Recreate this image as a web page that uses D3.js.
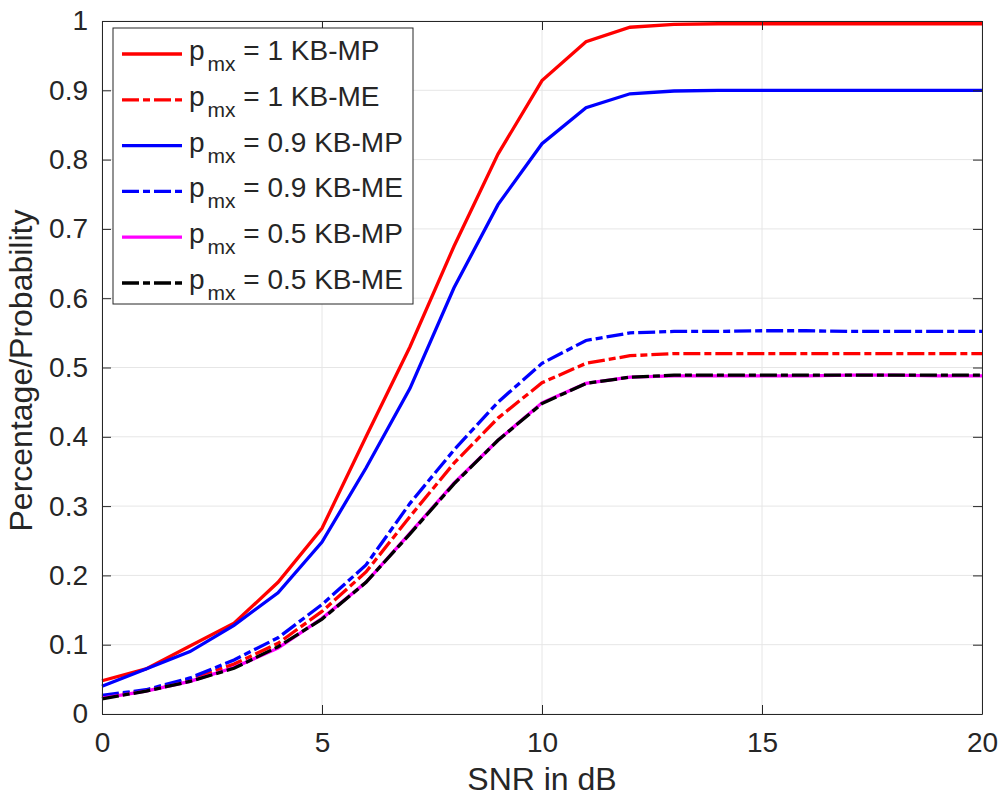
<!DOCTYPE html>
<html>
<head>
<meta charset="utf-8">
<script src="https://cdn.jsdelivr.net/npm/d3@7"></script>
<style>
  body { margin: 0; background: #fff; }
  text { font-family: "Liberation Sans", Arial, sans-serif; fill: #262626; }
</style>
</head>
<body>
<div id="chart"></div>
<script>
// SNR values (dB)
const snr = [0, 1, 2, 3, 4, 5, 6, 7, 8, 9, 10, 11, 12, 13, 14, 15, 16, 17, 18, 19, 20];

// series values
const mp1 = [0.048, 0.065, 0.098, 0.131, 0.19, 0.268, 0.40, 0.53, 0.675, 0.808, 0.914, 0.970, 0.991, 0.995, 0.996, 0.996, 0.996, 0.996, 0.996, 0.996, 0.996];
const me1 = [0.025, 0.034, 0.05, 0.072, 0.102, 0.148, 0.205, 0.285, 0.362, 0.427, 0.478, 0.506, 0.517, 0.520, 0.520, 0.520, 0.520, 0.520, 0.520, 0.520, 0.520];
const mp09 = [0.04, 0.065, 0.09, 0.128, 0.175, 0.248, 0.355, 0.47, 0.615, 0.735, 0.823, 0.875, 0.895, 0.899, 0.9, 0.9, 0.9, 0.9, 0.9, 0.9, 0.9];
const me09 = [0.027, 0.035, 0.052, 0.078, 0.11, 0.158, 0.215, 0.304, 0.381, 0.45, 0.506, 0.539, 0.550, 0.552, 0.552, 0.553, 0.553, 0.552, 0.552, 0.552, 0.552];
const mp05 = [0.023, 0.033, 0.047, 0.067, 0.095, 0.138, 0.19, 0.261, 0.333, 0.395, 0.449, 0.477, 0.486, 0.488, 0.488, 0.488, 0.488, 0.489, 0.489, 0.488, 0.488];
const me05 = [0.022, 0.033, 0.047, 0.066, 0.097, 0.137, 0.19, 0.26, 0.332, 0.395, 0.448, 0.477, 0.486, 0.489, 0.489, 0.489, 0.489, 0.489, 0.489, 0.489, 0.489];

const xTicks = [0, 5, 10, 15, 20];
const yTicks = [0, 0.1, 0.2, 0.3, 0.4, 0.5, 0.6, 0.7, 0.8, 0.9, 1];

const series = [
  { label: "1 KB-MP", values: mp1, color: "#ff0000", dash: null },
  { label: "1 KB-ME", values: me1, color: "#ff0000", dash: "17,4,7,4" },
  { label: "0.9 KB-MP", values: mp09, color: "#0000ff", dash: null },
  { label: "0.9 KB-ME", values: me09, color: "#0000ff", dash: "17,4,7,4" },
  { label: "0.5 KB-MP", values: mp05, color: "#ff00ff", dash: null },
  { label: "0.5 KB-ME", values: me05, color: "#000000", dash: "17,4,7,4" },
];

const width = 1002, height = 797;
const margin = { top: 21, right: 20, bottom: 83, left: 102 };

const svg = d3.select("#chart").append("svg")
  .attr("width", width).attr("height", height);

const x = d3.scaleLinear().domain([0, 20]).range([margin.left, width - margin.right]);
const y = d3.scaleLinear().domain([0, 1]).range([height - margin.bottom, margin.top]);

// grid
svg.append("g").selectAll("line").data(xTicks).enter().append("line")
  .attr("x1", d => x(d)).attr("x2", d => x(d))
  .attr("y1", y(0)).attr("y2", y(1))
  .attr("stroke", "#e6e6e6").attr("stroke-width", 1);
svg.append("g").selectAll("line").data(yTicks).enter().append("line")
  .attr("x1", x(0)).attr("x2", x(20))
  .attr("y1", d => y(d)).attr("y2", d => y(d))
  .attr("stroke", "#e6e6e6").attr("stroke-width", 1);

// lines
const line = d3.line().x((d, i) => x(snr[i])).y(d => y(d));
series.forEach(s => {
  svg.append("path")
    .datum(s.values)
    .attr("d", line)
    .attr("fill", "none")
    .attr("stroke", s.color)
    .attr("stroke-width", 3.3)
    .attr("stroke-dasharray", s.dash);
});

// axes, inward ticks on all sides
const tickLen = 9;
svg.append("g").attr("transform", `translate(0,${y(0)})`)
  .call(d3.axisBottom(x).tickValues(xTicks).tickSizeInner(-tickLen).tickSizeOuter(0).tickPadding(18));
svg.append("g").attr("transform", `translate(${x(0)},0)`)
  .call(d3.axisLeft(y).tickValues(yTicks).tickFormat(d3.format("~g")).tickSizeInner(-tickLen).tickSizeOuter(0).tickPadding(14));
svg.append("g").attr("transform", `translate(0,${y(1)})`)
  .call(d3.axisTop(x).tickValues(xTicks).tickSizeInner(-tickLen).tickSizeOuter(0).tickFormat(""));
svg.append("g").attr("transform", `translate(${x(20)},0)`)
  .call(d3.axisRight(y).tickValues(yTicks).tickSizeInner(-tickLen).tickSizeOuter(0).tickFormat(""));

svg.selectAll(".domain, .tick line").attr("stroke", "#262626").attr("stroke-width", 1);
svg.selectAll(".tick text").attr("fill", "#262626")
  .style("font-family", '"Liberation Sans", Arial, sans-serif').style("font-size", "28px");

// axis labels
svg.append("text")
  .attr("x", (x(0) + x(20)) / 2).attr("y", 790)
  .attr("text-anchor", "middle").style("font-size", "32px")
  .text("SNR in dB");
svg.append("text")
  .attr("transform", `translate(32,${(y(0) + y(1)) / 2 + 3}) rotate(-90)`)
  .attr("text-anchor", "middle").style("font-size", "32px")
  .text("Percentage/Probability");

// legend
const legend = svg.append("g");
legend.append("rect")
  .attr("x", 113).attr("y", 28).attr("width", 300).attr("height", 276)
  .attr("fill", "#fff").attr("stroke", "#262626").attr("stroke-width", 1);

series.forEach((s, i) => {
  const cy = 54 + i * 45.8;
  legend.append("line")
    .attr("x1", 122).attr("x2", 182).attr("y1", cy).attr("y2", cy)
    .attr("stroke", s.color).attr("stroke-width", 3.3)
    .attr("stroke-dasharray", s.dash);
  const t = legend.append("text").attr("x", 189).attr("y", cy + 6).style("font-size", "28px");
  t.append("tspan").text("p");
  t.append("tspan").attr("dy", 11).style("font-size", "21px").attr("dx", 3).text("mx");
  t.append("tspan").attr("dy", -11).text(" = " + s.label);
});
</script>
</body>
</html>
